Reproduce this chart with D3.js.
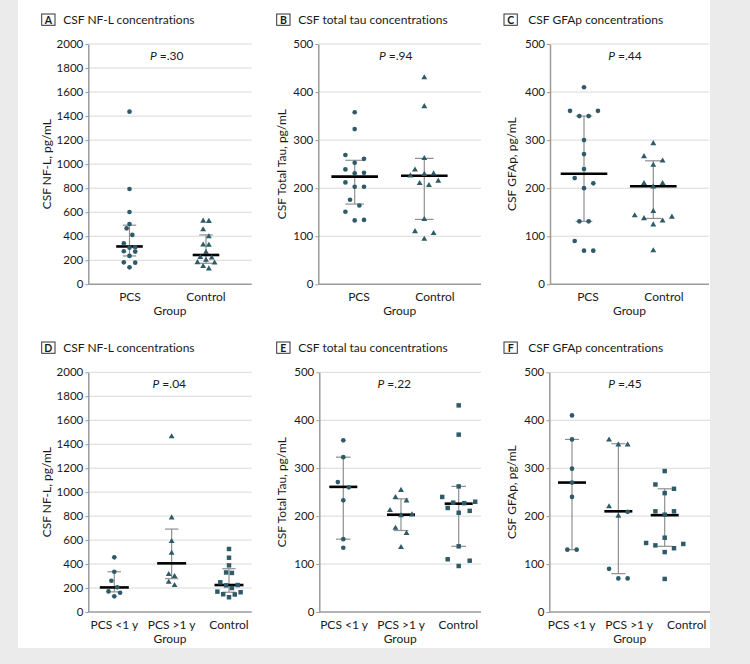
<!DOCTYPE html>
<html>
<head>
<meta charset="utf-8">
<script src="https://cdn.jsdelivr.net/npm/d3@7/dist/d3.min.js"></script>
<style>
    body { margin: 0; background: #ebebeb; }
    svg text { font-family: Lato, "Open Sans", sans-serif; fill: #1a1a1a; font-variant-ligatures: none; }
</style>
</head>
<body>
<svg id="fig" width="750" height="664"></svg>
<script>
// ---- chart text ----
const panel_letters = ["A", "B", "C", "D", "E", "F"];
const panel_titles = ["CSF NF-L concentrations", "CSF total tau concentrations", "CSF GFAp concentrations",
    "CSF NF-L concentrations", "CSF total tau concentrations", "CSF GFAp concentrations"];
const y_titles = ["CSF NF-L, pg/mL", "CSF Total Tau, pg/mL", "CSF GFAp, pg/mL",
    "CSF NF-L, pg/mL", "CSF Total Tau, pg/mL", "CSF GFAp, pg/mL"];
const p_values = [".30", ".94", ".44", ".04", ".22", ".45"];
const groups_2 = ["PCS", "Control"];
const groups_3 = ["PCS <1 y", "PCS >1 y", "Control"];
const ticks_nfl = [0, 200, 400, 600, 800, 1000, 1200, 1400, 1600, 1800, 2000];
const ticks_500 = [0, 100, 200, 300, 400, 500];

// ---- values (pg/mL) ----
const nfl_pcs = [1437, 793, 602, 502, 466, 411, 340, 308, 305, 275, 272, 236, 183, 180, 141];
const nfl_ctrl = [527, 525, 455, 397, 328, 326, 267, 224, 220, 202, 182, 178, 150, 130];
const tau_pcs = [358, 323, 269, 261, 253, 239, 232, 231, 212, 203, 203, 176, 164, 151, 134, 133];
const tau_ctrl = [430, 370, 262, 238, 230, 229, 226, 215, 210, 206, 135, 110, 106, 94];
const gfap_pcs = [410, 361, 361, 350, 350, 300, 271, 240, 221, 210, 200, 131, 131, 90, 70, 70];
const gfap_ctrl = [293, 266, 257, 248, 210, 210, 203, 152, 143, 140, 137, 132, 124, 70];
const nfl_lt1 = [456, 336, 261, 206, 172, 161, 131];
const nfl_gt1 = [1463, 787, 590, 492, 314, 298, 250, 222];
const nfl_ctrl_d = [526, 453, 389, 330, 326, 248, 225, 222, 200, 170, 165, 148, 146, 123];
const tau_lt1 = [358, 323, 271, 260, 233, 152, 134];
const tau_gt1 = [254, 239, 232, 212, 203, 201, 175, 164, 135];
const tau_ctrl_e = [431, 370, 262, 240, 230, 228, 227, 217, 211, 207, 137, 110, 107, 96];
const gfap_lt1 = [410, 360, 299, 270, 240, 130, 130];
const gfap_gt1_tri = [359, 349, 349, 220, 200];
const gfap_gt1_dot = [209, 90, 70, 70];
const gfap_ctrl_f = [294, 266, 257, 248, 210, 210, 203, 155, 144, 142, 139, 133, 125, 69];

// medians and interquartile ranges (per group)
const med_a = [315, 244], q1_a = [236, 175], q3_a = [492, 411];
const med_b = [224, 226], q1_b = [167, 135], q3_b = [258, 262];
const med_c = [230, 204], q1_c = [131, 137], q3_c = [350, 257];
const med_d = [205, 406, 225], q1_d = [168, 278, 165], q3_d = [336, 692, 361];
const med_e = [261, 203, 226], q1_e = [152, 170, 137], q3_e = [323, 236, 262];
const med_f = [270, 210, 202], q1_f = [130, 80, 137], q3_f = [360, 351, 257];

// ---- layout ----
const g_row = [{ top: 44, btm: 284.3, dy: 0 }, { top: 372.3, btm: 612, dy: 328 }];
const g_panels = [
    { row: 0, x0: 88.3, x1: 251.7, max: 2000, ticks: ticks_nfl, groups: groups_2, lab: [130, 206], dat: [129.5, 206],
      med_w: 13.3, cap_w: 6.7, step: 5.7, bin: 7, box: 41.7, tx: 63.3, px: 166.7, yl: 46.7,
      series: [[nfl_pcs, "circle", 0], [nfl_ctrl, "triangle", 1]], med: med_a, q1: q1_a, q3: q3_a },
    { row: 0, x0: 318.3, x1: 481, max: 500, ticks: ticks_500, groups: groups_2, lab: [359, 435], dat: [354.7, 424.3],
      med_w: 23.3, cap_w: 9.3, step: 9.3, bin: 10, box: 276.7, tx: 298.3, px: 395.7, yl: 281.7,
      series: [[tau_pcs, "circle", 0], [tau_ctrl, "triangle", 1]], med: med_b, q1: q1_b, q3: q3_b },
    { row: 0, x0: 550, x1: 709, max: 500, ticks: ticks_500, groups: groups_2, lab: [588, 664], dat: [584, 653.3],
      med_w: 23.3, cap_w: 8.3, step: 9.3, bin: 12, box: 504, tx: 528.3, px: 625, yl: 511.7,
      series: [[gfap_pcs, "circle", 0], [gfap_ctrl, "triangle", 1]], med: med_c, q1: q1_c, q3: q3_c },
    { row: 1, x0: 88.3, x1: 251.7, max: 2000, ticks: ticks_nfl, groups: groups_3, lab: [114.3, 229], dat: [114.3, 229],
      med_w: 14.5, cap_w: 6.7, step: 5.8, bin: 7, box: 41.7, tx: 63.3, px: 169.3, yl: 46.7,
      series: [[nfl_lt1, "circle", 0], [nfl_gt1, "triangle", 1], [nfl_ctrl_d, "square", 2]], med: med_d, q1: q1_d, q3: q3_d },
    { row: 1, x0: 319.3, x1: 481, max: 500, ticks: ticks_500, groups: groups_3, lab: [344, 458.3], dat: [343.3, 458.7],
      med_w: 14, cap_w: 7.3, step: 11, bin: 8, box: 276.7, tx: 298.3, px: 394.3, yl: 281.7,
      series: [[tau_lt1, "circle", 0], [tau_gt1, "triangle", 1], [tau_ctrl_e, "square", 2]], med: med_e, q1: q1_e, q3: q3_e },
    { row: 1, x0: 549.3, x1: 710, max: 500, ticks: ticks_500, groups: groups_3, lab: [571.7, 686.7], dat: [572, 664.7],
      med_w: 14, cap_w: 7, step: 9.3, bin: 12, box: 504, tx: 528.3, px: 625, yl: 511.7,
      series: [[gfap_lt1, "circle", 0], [gfap_gt1_tri, "triangle", 1], [gfap_gt1_dot, "circle", 1], [gfap_ctrl_f, "square", 2]],
      med: med_f, q1: q1_f, q3: q3_f }
];
const g_dot_color = "#2e5a69";
const g_symbols = {
    circle: d3.symbol().type(d3.symbolCircle).size(17)(),
    triangle: d3.symbol().type(d3.symbolTriangle).size(15)(),
    square: d3.symbol().type(d3.symbolSquare).size(20)()
};

const svg = d3.select("#fig");
svg.append("rect").attr("x", 18).attr("y", 0).attr("width", 692).attr("height", 648).attr("fill", "#ffffff");

g_panels.forEach(function (p, i) { draw_panel(p, i); });

function draw_panel(p, i) {
    var row = g_row[p.row];
    var g = svg.append("g");

    // scales
    var y_scaler = d3.scaleLinear().domain([0, p.max]).range([row.btm, row.top]);
    var lab_scaler = d3.scalePoint().domain(p.groups).range(p.lab);
    var dat_scaler = d3.scalePoint().domain(p.groups).range(p.dat);

    // grid lines
    g.selectAll(".grid").data(p.ticks.filter(t => t > 0)).join("line").classed("grid", true)
        .attr("x1", p.x0).attr("x2", p.x1).attr("y1", d => y_scaler(d)).attr("y2", d => y_scaler(d))
        .attr("style", "stroke:#d9d9d9; stroke-width:1");

    // y axis
    var y_axis = g.append("g").attr("transform", "translate(" + p.x0 + ",0)")
        .call(d3.axisLeft(y_scaler).tickValues(p.ticks).tickFormat(d3.format("d"))
            .tickSize(3).tickSizeOuter(0).tickPadding(2));
    y_axis.select(".domain").attr("style", "stroke:#9b9b9b; stroke-width:1.5");
    y_axis.selectAll(".tick line").attr("style", "stroke:#9b9b9b; stroke-width:1");
    y_axis.selectAll(".tick text").attr("style", "font-size:11.5px; fill:#1a1a1a; font-family:Lato");

    // x axis line
    g.append("line").attr("x1", p.x0).attr("x2", p.x1).attr("y1", row.btm).attr("y2", row.btm)
        .attr("style", "stroke:#9b9b9b; stroke-width:1.5");

    // category labels
    g.selectAll(".cat").data(p.groups).join("text").classed("cat", true)
        .attr("x", d => lab_scaler(d)).attr("y", row.btm + 16.5)
        .attr("text-anchor", "middle").style("font-size", "12px").text(d => d);
    g.append("text").attr("x", (p.x0 + p.x1) / 2).attr("y", row.btm + 30.5)
        .attr("text-anchor", "middle").style("font-size", "12px").text("Group");

    // y title
    g.append("text").attr("transform", "translate(" + p.yl + "," + (row.top + row.btm) / 2 + ") rotate(-90)")
        .attr("dy", "0.35em").attr("text-anchor", "middle").style("font-size", "12px").text(y_titles[i]);

    // panel letter and title
    g.append("rect").attr("x", p.box).attr("y", 14 + row.dy).attr("width", 13.3).attr("height", 11.3)
        .attr("style", "fill:white; stroke:#333; stroke-width:1");
    g.append("text").attr("x", p.box + 6.65).attr("y", 23.8 + row.dy).attr("text-anchor", "middle")
        .style("font-size", "10.5px").style("font-weight", "bold").text(panel_letters[i]);
    g.append("text").attr("x", p.tx).attr("y", 23.5 + row.dy).style("font-size", "12px").text(panel_titles[i]);

    // P value
    var pt = g.append("text").attr("x", p.px).attr("y", 59.5 + row.dy).attr("text-anchor", "middle").style("font-size", "12px");
    pt.append("tspan").style("font-style", "italic").text("P");
    pt.append("tspan").text(" =" + p_values[i]);

    // whiskers (IQR) and median
    p.groups.forEach(function (grp, k) {
        var cx = dat_scaler(grp);
        g.append("line").attr("x1", cx).attr("x2", cx).attr("y1", y_scaler(p.q1[k])).attr("y2", y_scaler(p.q3[k]))
            .attr("style", "stroke:#8f8f8f; stroke-width:1.2");
        [p.q1[k], p.q3[k]].forEach(function (q) {
            g.append("line").attr("x1", cx - p.cap_w).attr("x2", cx + p.cap_w).attr("y1", y_scaler(q)).attr("y2", y_scaler(q))
                .attr("style", "stroke:#8f8f8f; stroke-width:1.2");
        });
    });

    // points (binned scatter, spread per group)
    var pts = [];
    p.groups.forEach(function (grp, k) {
        var grp_pts = [];
        p.series.filter(s => s[2] == k).forEach(function (s) {
            s[0].forEach(v => grp_pts.push({ v: v, sym: s[1], grp: grp }));
        });
        var offs = swarm_offsets(grp_pts.map(d => d.v), y_scaler, p.bin);
        grp_pts.forEach(function (d, j) { d.x = dat_scaler(grp) + offs[j] * p.step; d.y = y_scaler(d.v); });
        pts = pts.concat(grp_pts);
    });

    p.groups.forEach(function (grp, k) {
        var cx = dat_scaler(grp), my = y_scaler(p.med[k]);
        g.append("line").attr("x1", cx - p.med_w).attr("x2", cx + p.med_w).attr("y1", my).attr("y2", my)
            .attr("style", "stroke:#000; stroke-width:2.6");
    });

    g.selectAll(".pt").data(pts).join("path").classed("pt", true)
        .attr("d", d => g_symbols[d.sym])
        .attr("transform", d => "translate(" + d.x + "," + d.y + ")")
        .attr("fill", g_dot_color);
}

function swarm_offsets(p_vals, p_scaler, p_bin) {
    // group points whose pixel positions are within p_bin, then spread each group around center
    var idx = d3.range(p_vals.length).sort((a, b) => p_vals[a] - p_vals[b]);
    var offs = new Array(p_vals.length).fill(0);
    var bin = [], start = 0;
    function flush() {
        var n = bin.length;
        bin.forEach(function (k, j) {
            if (n % 2 == 1) offs[k] = (j == 0) ? 0 : Math.ceil(j / 2) * (j % 2 ? 1 : -1);
            else offs[k] = (Math.floor(j / 2) + 0.5) * (j % 2 ? -1 : 1);
        });
        bin = [];
    }
    idx.forEach(function (k) {
        var py = p_scaler(p_vals[k]);
        if (bin.length && Math.abs(py - start) > p_bin) flush();
        if (!bin.length) start = py;
        bin.push(k);
    });
    flush();
    return offs;
}
</script>
</body>
</html>
